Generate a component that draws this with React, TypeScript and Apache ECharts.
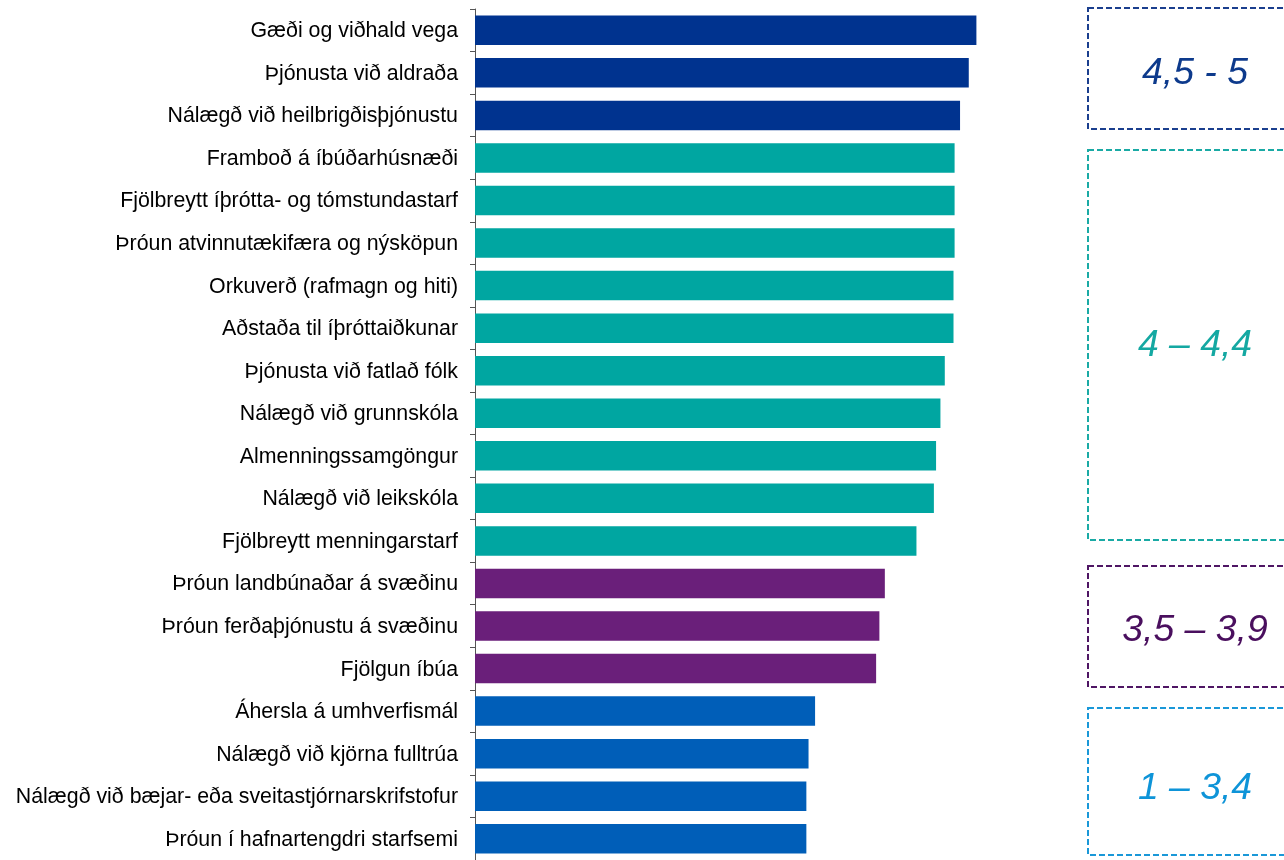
import React, { useEffect, useRef } from "react";
import * as echarts from "echarts";

const categories = [
  "Gæði og viðhald vega",
  "Þjónusta við aldraða",
  "Nálægð við heilbrigðisþjónustu",
  "Framboð á íbúðarhúsnæði",
  "Fjölbreytt íþrótta- og tómstundastarf",
  "Þróun atvinnutækifæra og nýsköpun",
  "Orkuverð (rafmagn og hiti)",
  "Aðstaða til íþróttaiðkunar",
  "Þjónusta við fatlað fólk",
  "Nálægð við grunnskóla",
  "Almenningssamgöngur",
  "Nálægð við leikskóla",
  "Fjölbreytt menningarstarf",
  "Þróun landbúnaðar á svæðinu",
  "Þróun ferðaþjónustu á svæðinu",
  "Fjölgun íbúa",
  "Áhersla á umhverfismál",
  "Nálægð við kjörna fulltrúa",
  "Nálægð við bæjar- eða sveitastjórnarskrifstofur",
  "Þróun í hafnartengdri starfsemi",
];

const values = [
  4.6, 4.53, 4.45, 4.4, 4.4, 4.4, 4.39, 4.39, 4.31, 4.27, 4.23, 4.21, 4.05,
  3.76, 3.71, 3.68, 3.12, 3.06, 3.04, 3.04,
];

// group index per category: 0 = 4,5-5 ; 1 = 4-4,4 ; 2 = 3,5-3,9 ; 3 = 1-3,4
const groups = [0, 0, 0, 1, 1, 1, 1, 1, 1, 1, 1, 1, 1, 2, 2, 2, 3, 3, 3, 3];

const groupLabels = ["4,5 - 5", "4 – 4,4", "3,5 – 3,9", "1 – 3,4"];
const barColors = ["#00338F", "#00A6A1", "#6A1F7A", "#005EB8"];
const boxColors = ["#1B3F8E", "#1AAAA5", "#4F1664", "#1A98D8"];
const textColors = ["#0D3A8C", "#14A8A2", "#4A0F5E", "#0E94D8"];

export default function App() {
  const ref = useRef<HTMLDivElement>(null);

  useEffect(() => {
    if (!ref.current) return;
    const chart = echarts.init(ref.current, undefined, { renderer: "svg" });

    const boxes = [
      { top: 8, bottom: 129, textY: 71 },
      { top: 150, bottom: 540, textY: 343 },
      { top: 566, bottom: 687, textY: 628 },
      { top: 708, bottom: 855, textY: 786 },
    ];

    const graphics: any[] = [];
    boxes.forEach((b, i) => {
      graphics.push({
        type: "rect",
        shape: { x: 1088, y: b.top, width: 214, height: b.bottom - b.top },
        style: {
          fill: "none",
          stroke: boxColors[i],
          lineWidth: 2,
          lineDash: [6, 3],
        },
        silent: true,
      });
      graphics.push({
        type: "text",
        x: 1195,
        y: b.textY,
        style: {
          text: groupLabels[i],
          font: "italic 37.33px 'Liberation Sans', Arial, sans-serif",
          fill: textColors[i],
          align: "center",
          verticalAlign: "middle",
        },
        silent: true,
      });
    });

    chart.setOption({
      animation: false,
      grid: { left: 475, top: 9, width: 545, height: 853.3, containLabel: false },
      xAxis: {
        type: "value",
        min: 0,
        max: 5,
        show: false,
      },
      yAxis: {
        type: "category",
        inverse: true,
        data: categories,
        axisLine: { show: true, lineStyle: { color: "#555555", width: 1 } },
        axisTick: { show: true, length: 5, lineStyle: { color: "#555555" } },
        axisLabel: {
          color: "#000000",
          fontSize: 21.33,
          fontFamily: "'Liberation Sans', Arial, sans-serif",
          margin: 17,
        },
        splitLine: { show: false },
      },
      series: [
        {
          type: "bar",
          barWidth: 29.5,
          data: values.map((v, i) => ({
            value: v,
            itemStyle: { color: barColors[groups[i]] },
          })),
        },
      ],
      graphic: graphics,
    });

    return () => chart.dispose();
  }, []);

  return (
    <div
      ref={ref}
      style={{ position: "fixed", left: 0, top: 0, width: 1284, height: 860 }}
    />
  );
}
